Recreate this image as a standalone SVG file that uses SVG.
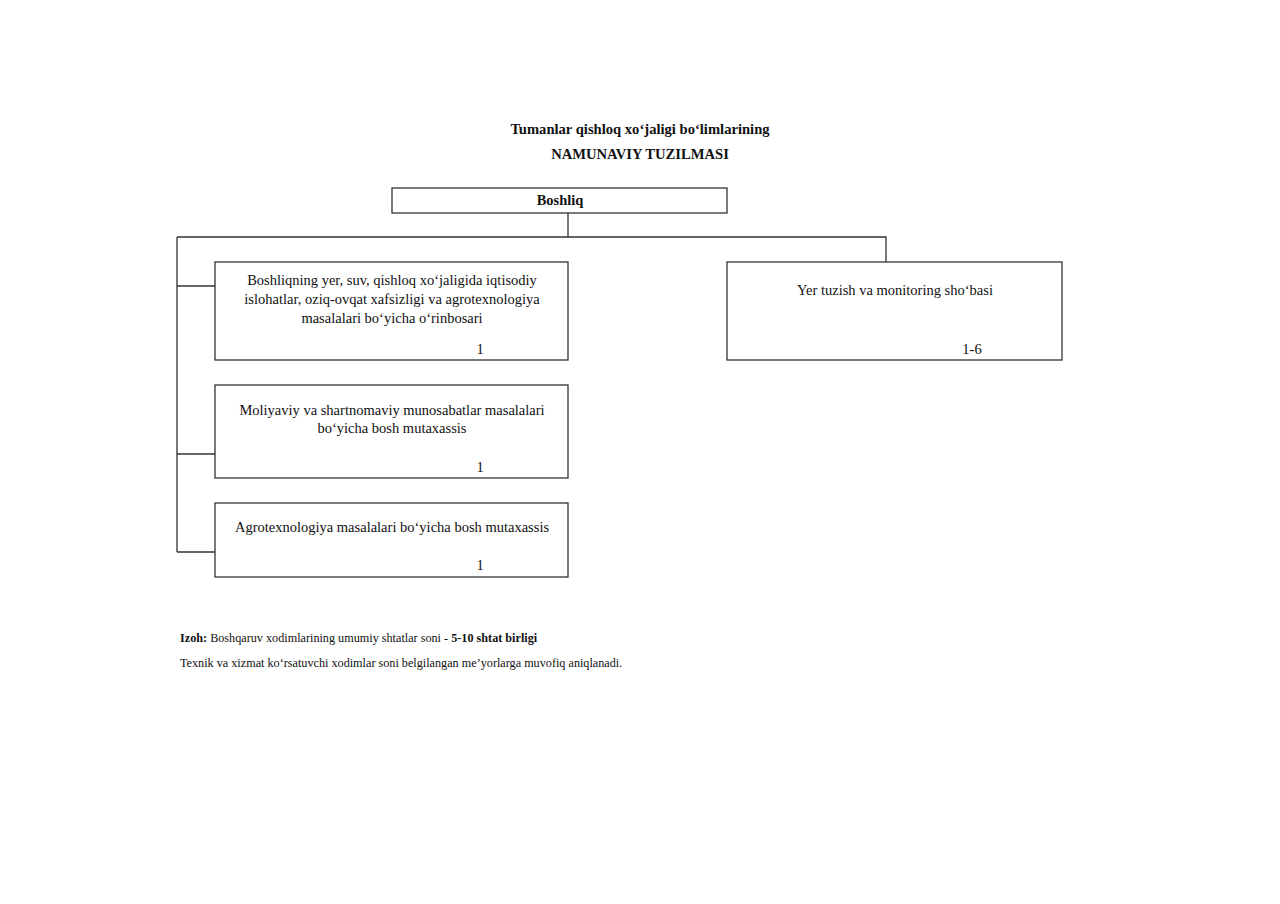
<svg xmlns="http://www.w3.org/2000/svg" width="1280" height="904" viewBox="0 0 1280 904">
<style>
text{font-family:"Liberation Serif","Times New Roman",serif;fill:#111}
.t{font-size:14.6px;font-weight:bold;text-anchor:middle}
.b{font-size:14.5px;text-anchor:middle}
.n{font-size:12.2px}
.box{fill:#fff;stroke:#333;stroke-width:1.3}
.c{fill:none;stroke:#333;stroke-width:1.3}
</style>
<rect width="1280" height="904" fill="#fff"/>
<text class="t" x="640" y="134">Tumanlar qishloq xo‘jaligi bo‘limlarining</text>
<text class="t" x="640" y="159">NAMUNAVIY TUZILMASI</text>
<g id="connectors">
<path class="c" d="M568,213V237M177,237H886V262M177,237V552M177,286H215M177,454H215M177,552H215"/>
</g>
<g id="boshliq">
<rect class="box" x="392" y="188" width="335" height="25"/>
<text class="b" x="560" y="205" font-weight="bold" font-size="14">Boshliq</text>
</g>
<g id="orinbosar">
<rect class="box" x="215" y="262" width="353" height="98"/>
<text class="b" x="392" y="285">Boshliqning yer, suv, qishloq xo‘jaligida iqtisodiy</text>
<text class="b" x="392" y="304">islohatlar, oziq-ovqat xafsizligi va agrotexnologiya</text>
<text class="b" x="392" y="323">masalalari bo‘yicha o‘rinbosari</text>
<text class="b" x="480" y="354">1</text>
</g>
<g id="moliya">
<rect class="box" x="215" y="385" width="353" height="93"/>
<text class="b" x="392" y="415">Moliyaviy va shartnomaviy munosabatlar masalalari</text>
<text class="b" x="392" y="433">bo‘yicha bosh mutaxassis</text>
<text class="b" x="480" y="472">1</text>
</g>
<g id="agro">
<rect class="box" x="215" y="503" width="353" height="74"/>
<text class="b" x="392" y="532">Agrotexnologiya masalalari bo‘yicha bosh mutaxassis</text>
<text class="b" x="480" y="570">1</text>
</g>
<g id="yer">
<rect class="box" x="727" y="262" width="335" height="98"/>
<text class="b" x="895" y="295">Yer tuzish va monitoring sho‘basi</text>
<text class="b" x="972" y="354">1-6</text>
</g>
<text class="n" x="180" y="642"><tspan font-weight="bold">Izoh:</tspan> Boshqaruv xodimlarining umumiy shtatlar soni - <tspan font-weight="bold">5-10 shtat birligi</tspan></text>
<text class="n" x="180" y="667">Texnik va xizmat ko‘rsatuvchi xodimlar soni belgilangan me’yorlarga muvofiq aniqlanadi.</text>
</svg>
